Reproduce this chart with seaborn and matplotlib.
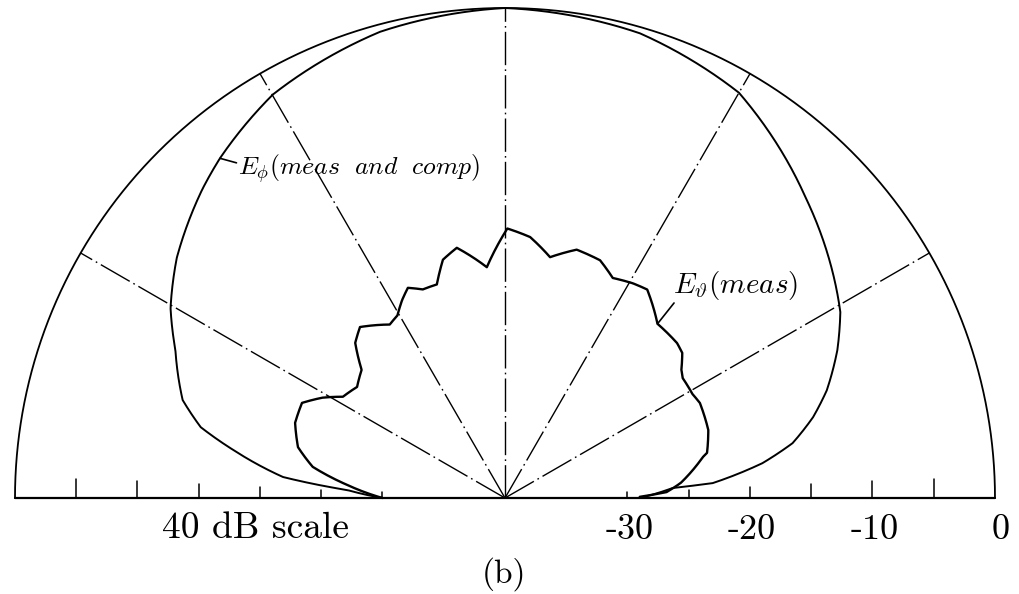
import numpy as np
import pandas as pd
import matplotlib
matplotlib.use("Agg")
import matplotlib.pyplot as plt
import seaborn as sns

# Pattern cut, 40 dB polar scale (0 dB at the rim, -40 dB at the centre)
DB_MIN, DB_MAX = -40.0, 0.0

# E_phi (measured and computed coincide): angle from the right-hand horizon, level in dB
ephi_angle = [0, 3.4, 4.1, 7.7, 10.8, 14.7, 18.5, 24, 29, 45, 60, 73.8, 90,
              105, 119.9, 130, 134.4, 143.8, 150.4, 155.8, 163.1, 166.9, 170,
              174.6, 177.1, 180]
ephi_db = [-29.0, -26.3, -23.0, -18.8, -16.1, -14.0, -12.3, -10.3, -8.7, -5.3,
           -1.8, -0.5, 0.0, -0.6, -2.0, -3.8, -4.7, -6.8, -8.6, -10.5, -12.5,
           -14.5, -17.5, -21.8, -27.1, -30.0]

# E_theta (measured)
etheta_angle = [0.5, 2.1, 4.9, 11.7, 12.6, 18.5, 26, 29, 34, 36, 39.3, 42,
                48.8, 55.7, 59.2, 63.9, 68.2, 73.9, 79.4, 84.5, 89.5, 94.5,
                100.9, 104.6, 107.7, 111.5, 114.8, 117.5, 120.5, 123.6, 130.3,
                134, 138.2, 143.1, 148, 151.2, 154.9, 160.3, 166.2, 170.8,
                175.3, 178.7, 180]
etheta_db = [-29.0, -26.8, -25.6, -23.5, -23.1, -22.5, -22.3, -22.5, -22.5,
             -22.2, -21.3, -21.1, -21.1, -19.4, -19.6, -20.0, -19.1, -18.9,
             -20.0, -18.6, -18.0, -21.1, -19.2, -19.9, -21.7, -21.7, -21.1,
             -21.8, -22.7, -23.0, -21.7, -22.4, -24.3, -24.9, -24.4, -23.0,
             -21.7, -21.8, -22.6, -24.1, -27.1, -29.2, -30.0]

# Scale furniture
spoke_angles = [30, 60, 90, 120, 150]
scale_ticks = [-30, -25, -20, -15, -10, -5]
scale_labels = [-30, -20, -10, 0]
scale_title = "40 dB scale"
panel_label = "(b)"
ephi_label = r"$E_{\phi}(meas\ \ and\ \ comp)$"
etheta_label = r"$E_{\vartheta}(meas)$"


def radius(db):
    return (np.asarray(db, dtype=float) - DB_MIN) / (DB_MAX - DB_MIN)


def to_xy(angle_deg, db):
    r = np.clip(radius(db), 0.0, None)
    t = np.radians(np.asarray(angle_deg, dtype=float))
    return r * np.cos(t), r * np.sin(t)


def polar_trace(angle_deg, db, step=0.25):
    """Cartesian vertices of a polar polyline whose segments run straight
    in (angle, level) space, as on a polar chart grid."""
    a = np.asarray(angle_deg, dtype=float)
    fine = np.unique(np.concatenate([a, np.arange(a[0], a[-1], step)]))
    x, y = to_xy(fine, np.interp(fine, a, db))
    return pd.DataFrame({"x": x, "y": y})


sns.set_theme(style="white")
plt.rcParams["mathtext.fontset"] = "cm"
plt.rcParams["axes.unicode_minus"] = False

fig = plt.figure(figsize=(10.19, 5.94), dpi=100)
ax = fig.add_axes([0, 0, 1, 1])
ax.set_xlim(-1.0306, 1.049)
ax.set_ylim(-0.1959, 1.0163)
ax.set_aspect("equal")
ax.set_axis_off()

ink = "black"

# Rim (0 dB) and baseline
rim = polar_trace([0, 180], [DB_MAX, DB_MAX])
ax.plot(rim["x"], rim["y"], color=ink, lw=1.3)
ax.plot([-1.0, 1.0], [0, 0], color=ink, lw=1.6)

# Angular spokes
for a in spoke_angles:
    sx, sy = to_xy([a, a], [DB_MIN, DB_MAX])
    ax.plot(sx, sy, color=ink, lw=1.0, linestyle=(0, (24, 3, 1.2, 3)))

# Tick marks along the baseline, both sides
for v in scale_ticks:
    r = float(radius(v))
    h = 0.045 * r
    for s in (-1, 1):
        ax.plot([s * r, s * r], [0, h], color=ink, lw=1.1)

# Curves
sns.lineplot(data=polar_trace(ephi_angle, ephi_db), x="x", y="y", sort=False,
             estimator=None, color=ink, lw=1.4, ax=ax)
sns.lineplot(data=polar_trace(etheta_angle, etheta_db), x="x", y="y",
             sort=False, estimator=None, color=ink, lw=1.7, ax=ax)

# Curve labels with short leaders
a_phi = 130.0
px, py = to_xy(a_phi, np.interp(a_phi, ephi_angle, ephi_db))
ax.plot([px, -0.548], [py, 0.684], color=ink, lw=1.2)
ax.text(-0.545, 0.659, ephi_label, fontsize=18.5, color=ink,
        ha="left", va="baseline")

a_th = 48.8
tx, ty = to_xy(a_th, np.interp(a_th, etheta_angle, etheta_db))
ax.plot([tx, 0.345], [ty, 0.398], color=ink, lw=1.2)
ax.text(0.343, 0.418, etheta_label, fontsize=21, color=ink,
        ha="left", va="baseline")

# Scale annotations
for v in scale_labels:
    ax.text(float(radius(v)) + (0.012 if v == 0 else 0.004), -0.066, f"{v}",
            fontsize=26, family="cmr10", color=ink, ha="center", va="center")
ax.text(-0.51, -0.062, scale_title, fontsize=27, family="cmr10",
        color=ink, ha="center", va="center")
ax.text(-0.002, -0.155, panel_label, fontsize=24, family="cmr10",
        color=ink, ha="center", va="center")

fig.savefig("out.png", dpi=100, facecolor="white")
